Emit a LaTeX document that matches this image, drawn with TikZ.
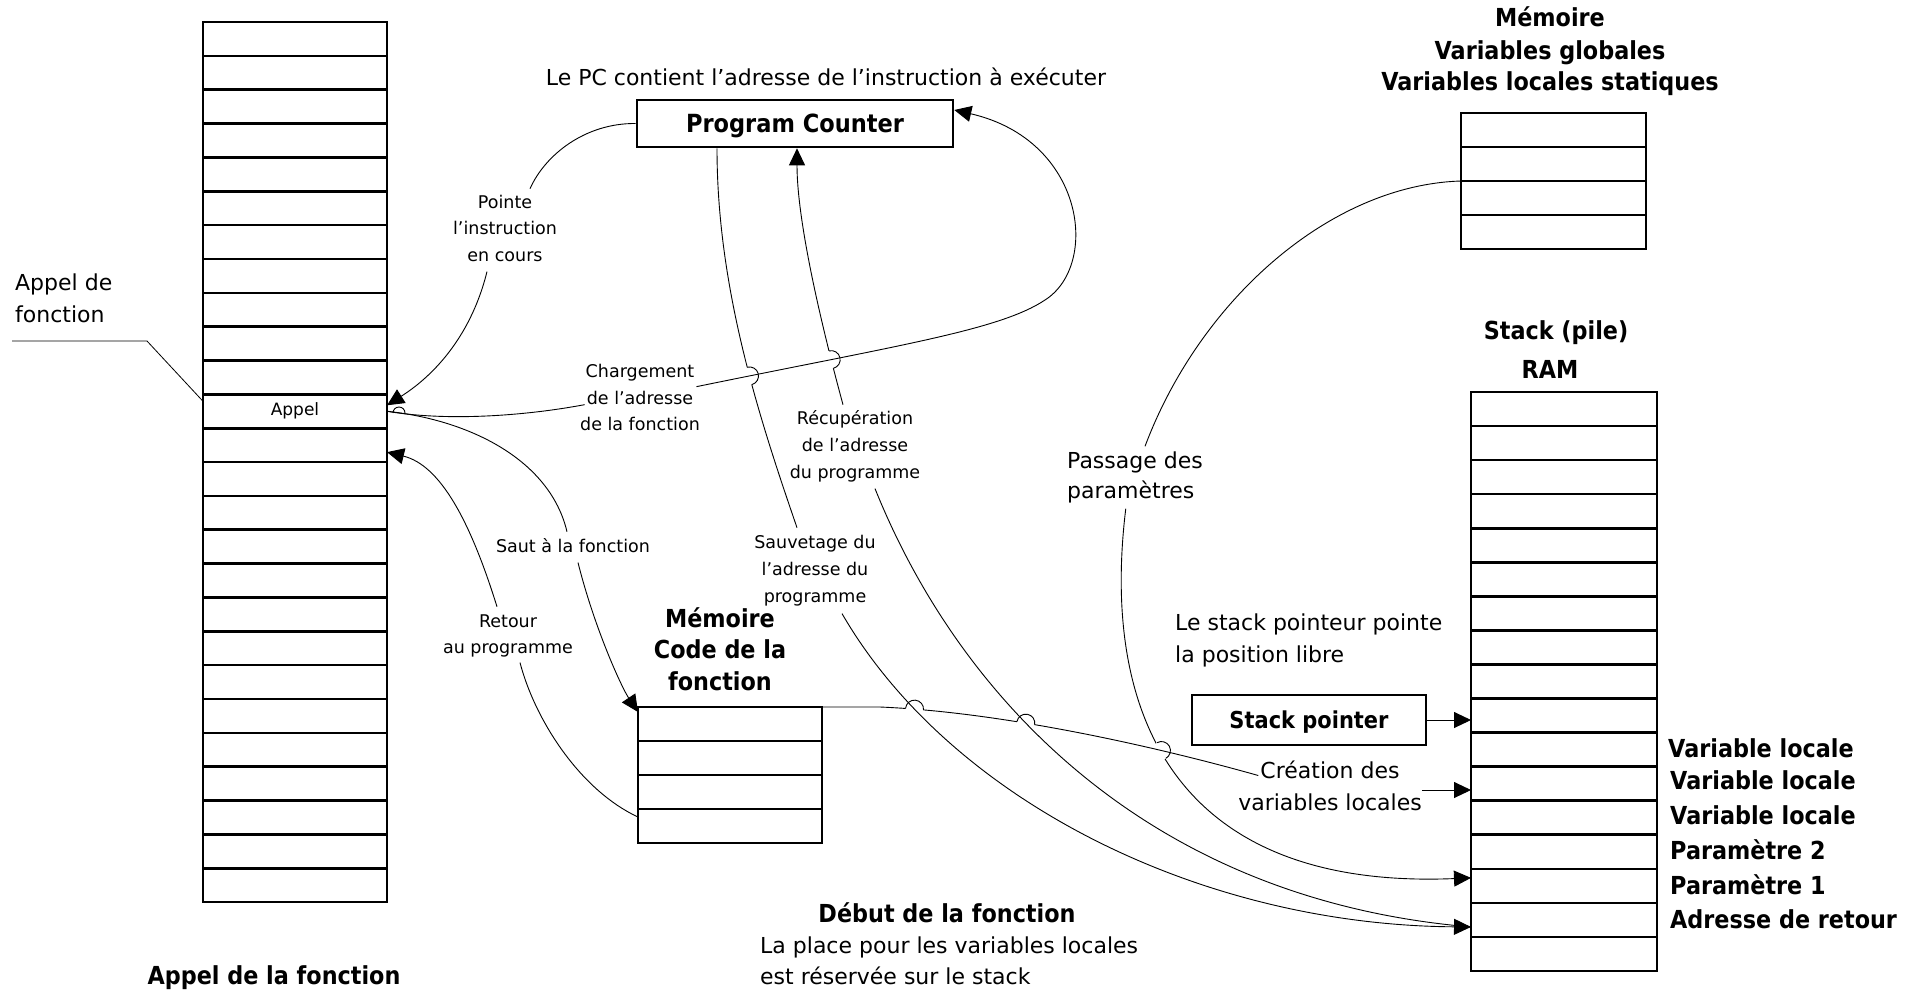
\documentclass[tikz,border=0pt]{standalone}
\usepackage{fontspec}
\setmainfont{DejaVu Sans}
\newfontfamily\bigfont{DejaVu Sans}[FakeStretch=0.9]
\usetikzlibrary{arrows.meta,intersections}
\newcommand{\hopmark}[3]{%
  \fill[white] (#1) circle[radius=9pt];
  \draw[conn] ([shift={(#2:9pt)}]#1) arc[start angle=#2, end angle=#3, radius=9pt];
}
\begin{document}
\begin{tikzpicture}[x=1pt,y=-1pt,
  cellL/.style={draw, line width=2.6pt, minimum width=184pt, minimum height=33.85pt, inner sep=0pt, outer sep=0pt},
  cellR/.style={cellL, minimum width=186pt, minimum height=34.06pt},
  cellM/.style={cellL, minimum width=185pt, minimum height=34pt},
  cellC/.style={cellL, minimum width=184pt, minimum height=34pt},
  txs/.style={font=\fontsize{17.5}{21}\selectfont, inner sep=0pt, text height=13.1pt, text depth=4.4pt, anchor=base},
  txm/.style={font=\fontsize{22}{26}\selectfont, inner sep=0pt, text height=16.5pt, text depth=5.5pt, anchor=base},
  txb/.style={font=\bigfont\bfseries\fontsize{24.8}{30}\selectfont, inner sep=0pt, text height=18.75pt, text depth=6.25pt, anchor=base},
  boxed/.style={draw, line width=2.6pt, inner sep=0pt, font=\bigfont\bfseries\fontsize{25}{30}\selectfont, text height=18.2pt, text depth=0pt},
  conn/.style={line width=0.9pt},
  arr/.style={conn, -{Triangle[length=17pt,width=16pt]}}
]
\useasboundingbox (0,0) rectangle (1917,994);

% ---- memory blocks ----
\foreach \i in {0,...,25} \node[cellL] (L\i) at (295,{22+33.85*(\i+0.5)}) {};
\foreach \i in {0,...,3} \node[cellC] (C\i) at (730,{707+34*(\i+0.5)}) {};
\foreach \i in {0,...,3} \node[cellM] (M\i) at (1553.5,{113+34*(\i+0.5)}) {};
\foreach \i in {0,...,16} \node[cellR] (R\i) at (1564,{392+34.06*(\i+0.5)}) {};
\node[txs, anchor=center, font=\fontsize{17}{20}\selectfont] (appel) at (L11) {Appel};

% ---- boxes ----
\node[boxed, minimum width=316pt, minimum height=47pt] (pc) at (795,123.5) {Program Counter};
\node[boxed, minimum width=234pt, minimum height=50pt, font=\bigfont\bfseries\fontsize{23.3}{28}\selectfont, text height=17pt] (sp) at (1309,720) {Stack pointer};

% ---- texts ----
\node[txm] (pctext) at (826,85) {Le PC contient l'adresse de l'instruction à exécuter};
\node[txb] (memA) at (1550,26.7) {Mémoire};
\node[txb] (memB) at (1550,59) {Variables globales};
\node[txb] (memC) at (1550,90) {Variables locales statiques};
\node[txm, anchor=base west] (apfA) at (15,290) {Appel de};
\node[txm, anchor=base west] (apfB) at (15,322) {fonction};
\node[txs] (pointeA) at (505,208) {Pointe};
\node[txs] (pointeB) at (505,234.5) {l'instruction};
\node[txs] (pointeC) at (505,261) {en cours};
\node[txs] (chgA) at (640,377) {Chargement};
\node[txs] (chgB) at (640,404) {de l'adresse};
\node[txs] (chgC) at (640,430) {de la fonction};
\node[txs] (recA) at (855,424) {Récupération};
\node[txs] (recB) at (855,451) {de l'adresse};
\node[txs] (recC) at (855,478) {du programme};
\node[txs] (saut) at (573,552) {Saut à la fonction};
\node[txs] (sauA) at (815,548) {Sauvetage du};
\node[txs] (sauB) at (815,575) {l'adresse du};
\node[txs] (sauC) at (815,602) {programme};
\node[txs] (retA) at (508,627) {Retour};
\node[txs] (retB) at (508,653) {au programme};
\node[txb] (codeA) at (720,627) {Mémoire};
\node[txb] (codeB) at (720,658) {Code de la};
\node[txb] (codeC) at (720,690) {fonction};
\node[txm, anchor=base west] (passA) at (1067,468) {Passage des};
\node[txm, anchor=base west] (passB) at (1067,498) {paramètres};
\node[txb] (stackA) at (1556,339) {Stack (pile)};
\node[txb] (stackB) at (1550,378) {RAM};
\node[txm, anchor=base west] (libreA) at (1175,630) {Le stack pointeur pointe};
\node[txm, anchor=base west] (libreB) at (1175,662) {la position libre};
\node[txm] (creaA) at (1330,778) {Création des};
\node[txm] (creaB) at (1330,810) {variables locales};
\node[txb, anchor=base west] (lv1) at (1668,757) {Variable locale};
\node[txb, anchor=base west] (lv2) at (1670,789) {Variable locale};
\node[txb, anchor=base west] (lv3) at (1670,824) {Variable locale};
\node[txb, anchor=base west] (par2) at (1670,859) {Paramètre 2};
\node[txb, anchor=base west] (par1) at (1670,894) {Paramètre 1};
\node[txb, anchor=base west] (adr) at (1670,928) {Adresse de retour};
\node[txb] (debut) at (947,922) {Début de la fonction};
\node[txm, anchor=base west] (placeA) at (760,953) {La place pour les variables locales};
\node[txm, anchor=base west] (placeB) at (760,984) {est réservée sur le stack};
\node[txb] (appelf) at (274,984) {Appel de la fonction};

% ---- connectors on the left ----
\coordinate (apf) at (12,341);
\draw[line width=0.8pt] (apf) -- (147,341) -- ([yshift=10pt]L11.west);
\draw[conn] (pc.west) .. controls (585,123) and (545,155) .. ([shift={(25pt,6pt)}]pointeA.north);
\draw[arr] ([shift={(-18pt,-6pt)}]pointeC.south) .. controls (470,340) and (430,378) .. ([yshift=6pt]L11.east);
\draw[conn] (L11.east) .. controls (450,422) and (530,415) .. ([shift={(-2pt,-5pt)}]chgB.west);
\draw[conn] (393,413) arc[start angle=180, end angle=0, radius=6pt];
\draw[conn] (L11.east) .. controls (470,420) and (550,460) .. ([shift={(-6pt,7pt)}]saut.north);
\draw[arr] ([shift={(5pt,-6pt)}]saut.south) .. controls (595,630) and (622,688) .. ([yshift=-5pt]C0.north west);
\draw[conn] ([yshift=9pt]C3.west) .. controls (580,790) and (535,720) .. ([shift={(12pt,-5pt)}]retB.south);
\draw[arr] ([shift={(-11pt,7pt)}]retA.north) .. controls (470,520) and (440,465) .. ([yshift=-7pt]L12.east);

% ---- PC connectors ----
\draw[conn, name path=sauvU] ([xshift=-78pt]pc.south) .. controls (717,290) and (760,420) .. ([shift={(-18pt,7pt)}]sauA.north);
\draw[arr, name path=recU] ([shift={(-12pt,6pt)}]recA.north) .. controls (820,320) and (797,220) .. ([xshift=2pt]pc.south);
\path[name path=chgR] ([shift={(2pt,-14pt)}]chgA.east) .. controls (900,345) and (1000,330) .. (1045,300) .. controls (1100,265) and (1085,140) .. ([yshift=13.5pt]pc.east);
\path[name intersections={of=sauvU and chgR, by={X1}}];
\path[name intersections={of=recU and chgR, by={X2}}];
\hopmark{X1}{105}{-75}
\hopmark{X2}{104}{-76}
\draw[arr] ([shift={(2pt,-14pt)}]chgA.east) .. controls (900,345) and (1000,330) .. (1045,300) .. controls (1100,265) and (1085,140) .. ([yshift=13.5pt]pc.east);

% ---- passage des parametres ----
\draw[conn] (M1.south west) .. controls (1330,185) and (1200,300) .. ([shift={(10pt,5pt)}]passA.north);
\draw[arr, name path=passL] ([shift={(-5pt,-5pt)}]passB.south) .. controls (1100,720) and (1180,890) .. ([yshift=8pt]R14.west);

% ---- creation des variables locales ----
\path[name path=crea] (C0.north east) -- (880,707) .. controls (1000,712) and (1150,745) .. ([shift={(-2pt,-3pt)}]creaA.west);
\path[name intersections={of=passL and crea, by={Y3}}];
\hopmark{Y3}{119}{-61}
\draw[conn] (C0.north east) -- (880,707) .. controls (1000,712) and (1150,745) .. ([shift={(-2pt,-3pt)}]creaA.west);

% ---- lower parts of saving / recovering ----
\path[name path=sauvL] ([shift={(27pt,-7pt)}]sauC.south) .. controls (950,800) and (1200,925) .. ([yshift=-7pt]R15.west);
\path[name path=recL] ([shift={(20pt,-6pt)}]recC.south) .. controls (960,700) and (1150,900) .. ([yshift=-7pt]R15.west);
\path[name intersections={of=sauvL and crea, by={Y1}}];
\path[name intersections={of=recL and crea, by={Y2}}];
\hopmark{Y1}{175}{-5}
\hopmark{Y2}{170}{-10}
\draw[arr] ([shift={(27pt,-7pt)}]sauC.south) .. controls (950,800) and (1200,925) .. ([yshift=-7pt]R15.west);
\draw[conn] ([shift={(20pt,-6pt)}]recC.south) .. controls (960,700) and (1150,900) .. ([yshift=-7pt]R15.west);

% ---- arrows into the stack ----
\draw[arr] (sp.east) -- (sp.east -| R9.west);
\coordinate (creaOut) at ([yshift=14.5pt]creaB.east);
\draw[arr] (creaOut) -- (creaOut -| R11.west);
\end{tikzpicture}
\end{document}
